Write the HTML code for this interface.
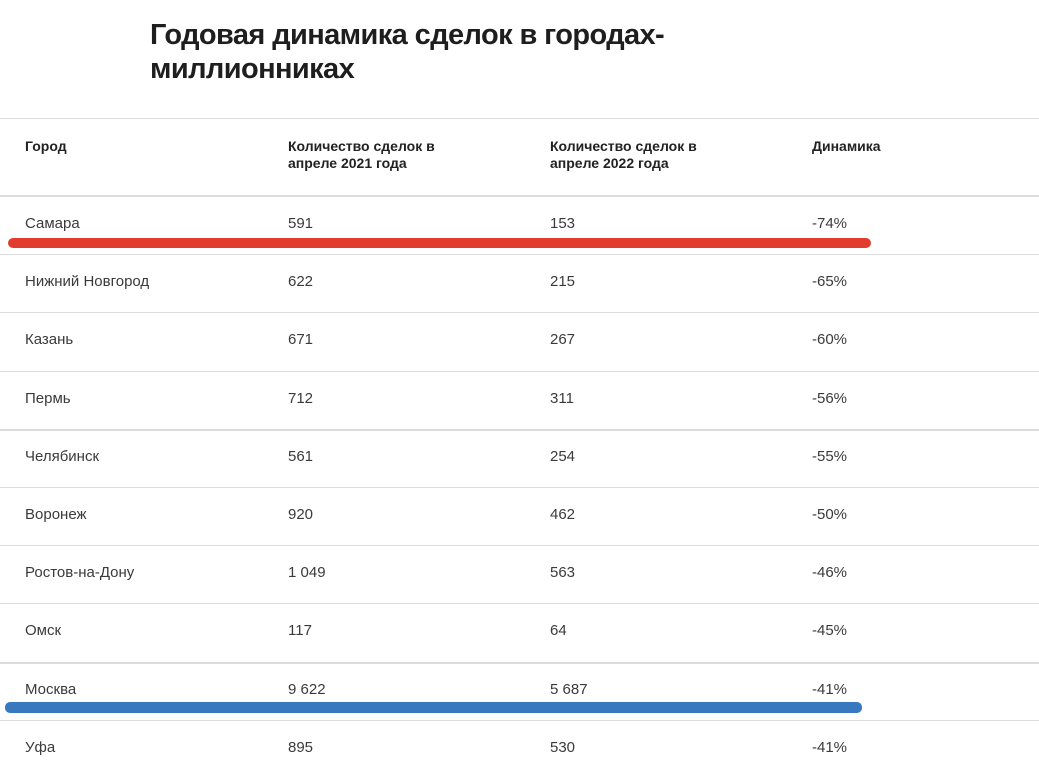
<!DOCTYPE html>
<html><head><meta charset="utf-8">
<style>
body{margin:0;width:1039px;height:771px;overflow:hidden;background:#fff;font-family:"Liberation Sans","DejaVu Sans",sans-serif;color:#2b2b2b;position:relative}
.t{position:absolute;left:150px;top:18px;font-size:29px;font-weight:bold;line-height:34px;color:#1e1e1e;letter-spacing:-0.6px;margin:0}
.ln{position:absolute;left:0;width:1039px;background:#dcdcdc}
.c{position:absolute;font-size:15px;white-space:nowrap;color:#3a3a3a}
.h{position:absolute;font-size:14px;font-weight:bold;line-height:17px;color:#222}
.mark{position:absolute;height:10px;border-radius:5px}
</style></head><body>
<h1 class="t">Годовая динамика сделок в городах-<br>миллионниках</h1>
<div class="h" style="left:25px;top:138px">Город</div>
<div class="h" style="left:288px;top:138px">Количество сделок в<br>апреле 2021 года</div>
<div class="h" style="left:550px;top:138px">Количество сделок в<br>апреле 2022 года</div>
<div class="h" style="left:812px;top:138px">Динамика</div>
<div class="ln" style="top:118px;height:1px"></div>
<div class="ln" style="top:195px;height:2px"></div>
<div id="rows"></div>
<script>
const cities=["Самара","Нижний Новгород","Казань","Пермь","Челябинск","Воронеж","Ростов-на-Дону","Омск","Москва","Уфа"];
const deals2021=["591","622","671","712","561","920","1 049","117","9 622","895"];
const deals2022=["153","215","267","311","254","462","563","64","5 687","530"];
const change=["-74%","-65%","-60%","-56%","-55%","-50%","-46%","-45%","-41%","-41%"];
const root=document.getElementById('rows');
const rowTop=196,rowH=58.2;
cities.forEach((c,i)=>{
  const y=rowTop+i*rowH;
  const cols=[[25,c,'city'],[288,deals2021[i],'deals-2021'],[550,deals2022[i],'deals-2022'],[812,change[i],'change']];
  cols.forEach(([x,t,n])=>{
    const d=document.createElement('div');d.className='c';
    d.style.left=x+'px';d.style.top=(y+19)+'px';d.textContent=t;
    
    
    root.appendChild(d);
  });
  if(i<cities.length-1){
    const l=document.createElement('div');l.className='ln';
    l.style.top=Math.round(y+rowH)+'px';l.style.height=(i==3||i==7?2:1)+'px';
    
    
    root.appendChild(l);
  }
});
const m1=document.createElement('div');m1.className='mark';
m1.style.cssText='left:8px;width:863px;top:238px;background:#e23c30';


root.appendChild(m1);
const m2=document.createElement('div');m2.className='mark';
m2.style.cssText='left:5px;width:857px;top:702px;height:11px;background:#3878bf';


root.appendChild(m2);
</script>
</body></html>
